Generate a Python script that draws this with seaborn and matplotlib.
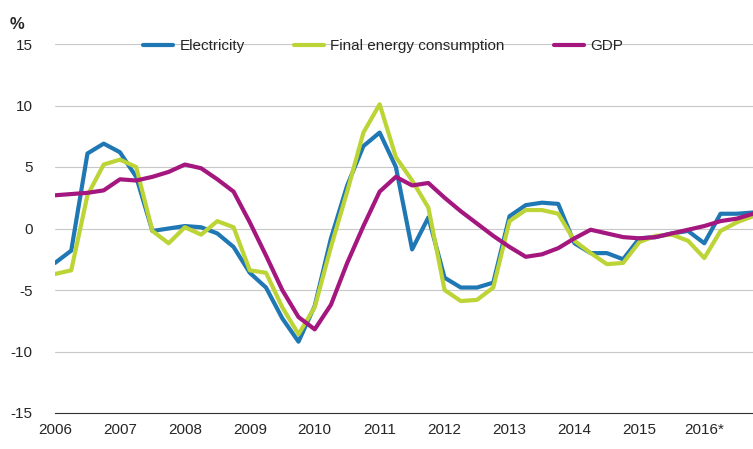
import numpy as np
import pandas as pd
import matplotlib
matplotlib.use('Agg')
import matplotlib.pyplot as plt
import seaborn as sns

quarters = np.arange(2006, 2017, 0.25)
electricity = [-2.8, -1.8, 6.1, 6.9, 6.2, 4.2, -0.2, 0.0, 0.2, 0.1, -0.4, -1.5,
               -3.6, -4.8, -7.3, -9.2, -6.3, -0.8, 3.5, 6.7, 7.8, 5.0, -1.7, 0.9,
               -4.0, -4.8, -4.8, -4.4, 1.0, 1.9, 2.1, 2.0, -1.2, -2.0, -2.0, -2.5,
               -0.8, -0.7, -0.4, -0.2, -1.2, 1.2, 1.2, 1.3]
final_energy = [-3.7, -3.4, 2.7, 5.2, 5.6, 5.0, -0.2, -1.2, 0.1, -0.5, 0.6, 0.1,
                -3.4, -3.6, -6.4, -8.6, -6.4, -1.5, 3.0, 7.8, 10.1, 5.8, 3.9, 1.7,
                -5.0, -5.9, -5.8, -4.8, 0.6, 1.5, 1.5, 1.2, -1.0, -2.0, -2.9, -2.8,
                -1.1, -0.6, -0.5, -1.0, -2.4, -0.2, 0.5, 1.0]
gdp = [2.7, 2.8, 2.9, 3.1, 4.0, 3.9, 4.2, 4.6, 5.2, 4.9, 4.0, 3.0,
       0.5, -2.2, -5.0, -7.2, -8.2, -6.2, -2.8, 0.2, 3.0, 4.2, 3.5, 3.7,
       2.5, 1.4, 0.4, -0.6, -1.5, -2.3, -2.1, -1.6, -0.8, -0.1, -0.4, -0.7,
       -0.8, -0.7, -0.4, -0.1, 0.2, 0.6, 0.8, 1.2]
year_labels = ['2006', '2007', '2008', '2009', '2010', '2011', '2012',
               '2013', '2014', '2015', '2016*']

df = pd.DataFrame({'x': quarters, 'Electricity': electricity,
                   'Final energy consumption': final_energy, 'GDP': gdp})
long = df.melt('x', var_name='series', value_name='value')

sns.set_style('white')
plt.rcParams['font.family'] = ['Arial', 'Liberation Sans', 'DejaVu Sans']
plt.rcParams['axes.unicode_minus'] = False
fig = plt.figure(figsize=(7.53, 4.49), dpi=100)
ax = fig.add_axes([55/753, 36/449, 698/753, 369/449])
palette = {'Electricity': '#1f78b4', 'Final energy consumption': '#bdd437', 'GDP': '#a3177f'}
sns.lineplot(data=long, x='x', y='value', hue='series', palette=palette, lw=3, ax=ax)

ax.set_xlim(2006, 2016.75)
ax.set_ylim(-15, 15)
ax.set_yticks(range(-15, 16, 5))
ax.set_xticks(range(2006, 2017))
ax.set_xticklabels(year_labels)
ax.yaxis.grid(True, color='#c8c8c8', lw=0.8)
ax.set_xlabel('')
ax.set_ylabel('')
for s in ['top', 'right', 'left']:
    ax.spines[s].set_visible(False)
ax.spines['bottom'].set_color('#333333')
ax.tick_params(axis='x', direction='out', length=5, color='#333333', labelsize=11, pad=2)
ax.tick_params(axis='y', length=0, labelsize=11, pad=16)
ax.text(-0.065, 1.04, '%', transform=ax.transAxes, fontsize=12, fontweight='bold')
ax.legend(loc='upper center', bbox_to_anchor=(0.47, 1.05), ncol=3, frameon=False,
          fontsize=11, handlelength=2.0, handletextpad=0.4, columnspacing=3.2, title=None)

plt.savefig('out.png', dpi=100)
